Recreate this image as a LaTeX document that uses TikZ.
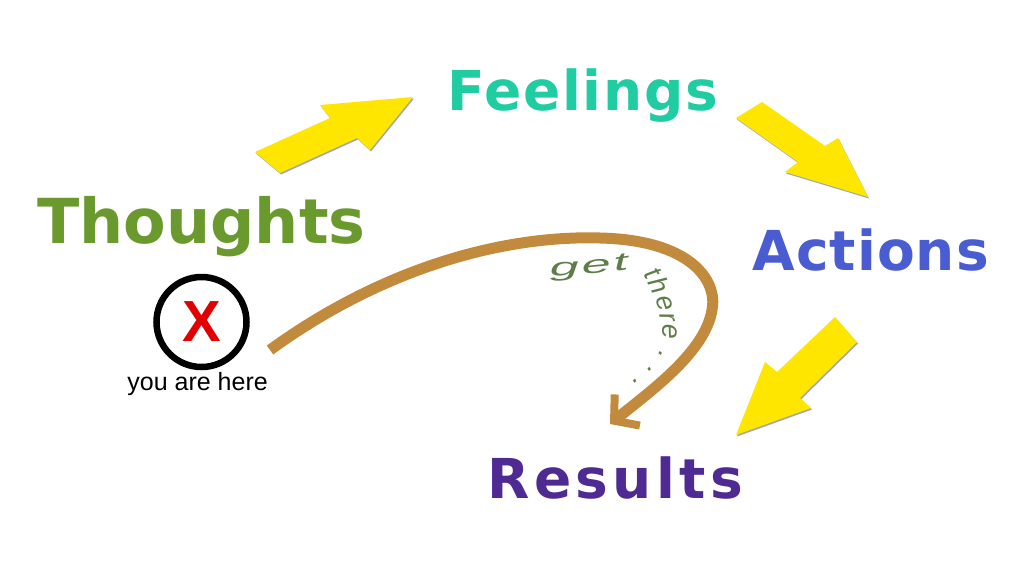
\documentclass[tikz,border=0pt]{standalone}
\usepackage{fontspec}
\setmainfont{Liberation Sans}
\newfontfamily\wordfont{DejaVu Sans}
\newfontfamily\widefont{Liberation Sans}[FakeStretch=2.1]
\usetikzlibrary{arrows.meta,decorations.text,shadows}
\definecolor{lemon}{HTML}{FFE600}
\definecolor{moss}{HTML}{6A9A2E}
\definecolor{jade}{HTML}{20CCA2}
\definecolor{cobalt}{HTML}{4A5CD2}
\definecolor{grape}{HTML}{4F2A92}
\definecolor{ochre}{HTML}{C28A3C}
\definecolor{sage}{HTML}{5E7D48}
\definecolor{signal}{HTML}{E00000}
\tikzset{word/.style={font=\wordfont\bfseries\fontsize{#1}{#1}\selectfont}}

\begin{document}
\begin{tikzpicture}[x=1pt, y=1pt, thick]
\useasboundingbox (0,0) rectangle (1024,-565);

\tikzstyle{every node}=[inner sep=0pt, anchor=base west]
\tikzstyle{block}=[fill=lemon, draw=none, drop shadow={shadow xshift=1pt, shadow yshift=-1.5pt, opacity=0.35, fill=black}]
\tikzstyle{saying}=[decorate, decoration={text along path, text align=fit to path, text color=sage, text={#1}}]

\draw    (37,-243)  node[word=62, text=moss] (thoughts) {Thoughts}
         (447,-110) node[word=55, text=jade] (feelings) {\addfontfeatures{LetterSpace=3}Feelings}
         (752,-270) node[word=55, text=cobalt] (actions) {\addfontfeatures{LetterSpace=2}Actions}
         (487,-498) node[word=55, text=grape] (results) {\addfontfeatures{LetterSpace=8}Results};

\draw    (201.5,-322) node[circle, anchor=center, draw=black, line width=6.5pt, minimum size=90pt,
                           text=signal, font=\bfseries\fontsize{58}{58}\selectfont] (spot) {X}
         (127,-390) node[font=\fontsize{25}{25}\selectfont] (here) {you are here};

\fill[block] (255,-152) -- (330,-118) -- (320,-105) -- (413,-97) -- (370,-150) -- (357,-138) -- (280,-173) -- cycle;
\fill[block] (762,-102) -- (825,-146) -- (838,-138) -- (868,-197) -- (785,-172) -- (798,-162) -- (736,-118) -- cycle;
\fill[block] (835,-317) -- (857,-342) -- (800,-398) -- (811,-408) -- (736,-435) -- (765,-362) -- (777,-372) -- cycle;

\coordinate (gostart) at (270,-350);
\coordinate (goend) at (610,-424);
\draw [draw=ochre, line width=11pt, -{Straight Barb[length=17pt, width=40pt, line width=8pt]}]
      (gostart) .. controls (380,-270) and (500,-235) .. (600,-238)
                .. controls (690,-240) and (718,-280) .. (712,-310)
                .. controls (705,-352) and (652,-390) .. (goend);

\path [saying={|\widefont\itshape\fontsize{25}{25}\selectfont|get}]
      (550,-276) .. controls (575,-275) and (605,-273) .. (629,-269);
\path [saying={|\itshape\fontsize{27}{27}\selectfont|there . . .}]
      (643,-275) .. controls (656,-295) and (664,-320) .. (662,-342)
                 .. controls (660,-360) and (645,-373) .. (630,-383);

\end{tikzpicture}
\end{document}
